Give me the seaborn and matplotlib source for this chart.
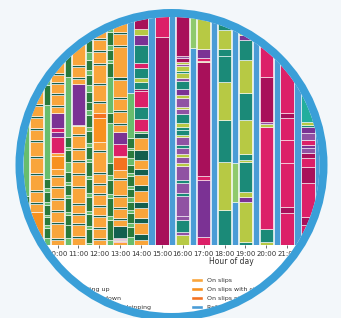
import matplotlib
matplotlib.use("Agg")
import matplotlib.pyplot as plt
from matplotlib.patches import Circle, Patch
import pandas as pd
import seaborn as sns

# activity colours
palette = {
    "LO": "#f9a53b", "OR": "#f7911f", "DO": "#f37221", "BL": "#4a9cd6",
    "DG": "#2a7a3b", "LG": "#68bd6d", "DT": "#135f4f", "TE": "#1b8a78",
    "PU": "#7b3294", "LP": "#9052a3", "MA": "#dc2068", "DM": "#a8105a",
    "YG": "#b7c944", "PG": "#8fca6c", "TQ": "#22ae9d",
}
left_codes = ["LG", "DT", "TE", "PU", "LP", "MA", "DM"]
left_labels = ["Building up", "Breaking down", "Superstructure stripping",
               "Fitting out", "Painting", "Testing", "Trials"]
right_codes = ["LO", "OR", "DO", "BL", "YG", "PG", "TQ"]
right_labels = ["On slips", "On slips with civil works", "On slips night shift", "Refit afloat",
                "Dry dock", "Wet dock", "Idle"]

# wide bars, one per hour: (activity, duration in 15 s slots), bottom to top
h08 = [("OR", 33), ("LO", 207)]
h09 = [("OR", 33), ("LO", 8), ("DT", 2), ("LO", 10), ("DT", 2), ("LO", 15), ("DT", 2), ("LO", 15), ("DT", 2),
       ("LO", 14), ("DT", 2), ("LO", 10), ("DT", 2), ("LO", 10), ("DT", 2), ("LO", 10), ("DT", 2), ("LO", 99)]
h10 = [("LO", 5), ("DT", 2), ("LO", 14), ("DT", 2), ("LO", 10), ("DT", 2), ("LO", 10), ("DT", 2), ("LO", 10),
       ("DT", 2), ("LO", 9), ("DT", 2), ("LO", 6), ("OR", 13), ("LO", 3), ("MA", 16), ("PU", 5), ("MA", 4),
       ("PU", 15), ("LO", 6), ("DT", 2), ("LO", 10), ("DT", 2), ("LO", 9), ("DT", 2), ("LO", 7), ("DT", 2),
       ("LO", 10), ("DT", 2), ("LO", 56)]
h11 = [("LO", 7), ("DT", 2), ("LO", 11), ("DT", 2), ("LO", 8), ("DT", 2), ("LO", 8), ("DT", 2), ("LO", 15),
       ("DT", 2), ("LO", 11), ("DT", 2), ("LO", 11), ("DT", 2), ("LO", 10), ("DT", 2), ("LO", 12), ("DT", 2),
       ("LO", 8), ("YG", 1), ("PU", 41), ("LO", 5), ("DT", 2), ("LO", 10), ("DT", 2), ("LO", 60)]
h12 = [("LO", 5), ("DT", 2), ("LO", 9), ("DT", 2), ("LO", 10), ("DT", 2), ("LO", 8), ("DT", 2), ("LO", 10),
       ("DT", 2), ("LO", 8), ("DT", 2), ("LO", 9), ("DT", 2), ("LO", 20), ("DT", 2), ("LO", 8), ("OR", 24),
       ("DO", 5), ("LO", 10), ("DT", 2), ("LO", 16), ("DT", 2), ("LO", 18), ("DT", 2), ("LO", 11), ("DT", 2),
       ("LO", 10), ("DT", 2), ("LO", 33)]
h13 = [("LO", 3), ("MA", 1), ("YG", 1), ("PU", 1), ("MA", 1), ("DT", 12), ("LO", 6), ("DT", 2), ("LO", 9),
       ("DT", 2), ("LO", 10), ("DT", 2), ("LO", 15), ("DT", 2), ("LO", 8), ("DO", 13), ("LO", 1), ("MA", 12),
       ("PU", 12), ("LO", 7), ("DT", 2), ("LO", 11), ("DT", 2), ("LO", 11), ("DT", 2), ("LO", 17), ("DT", 3),
       ("LO", 30), ("DT", 2), ("LO", 11), ("DT", 2), ("LO", 27)]
h14 = [("LO", 5), ("DT", 6), ("LO", 11), ("DT", 5), ("LO", 10), ("DT", 6), ("LO", 11), ("DT", 6), ("LO", 10),
       ("DT", 6), ("LO", 9), ("DT", 10), ("LO", 12), ("DT", 5), ("LG", 2), ("MA", 12), ("TE", 12), ("MA", 16),
       ("DM", 2), ("TE", 7), ("YG", 4), ("TE", 10), ("MA", 5), ("TE", 18), ("PU", 10), ("YG", 6), ("DM", 24)]
h15 = [("DM", 208), ("MA", 32)]
h16 = [("YG", 10), ("LP", 3), ("TE", 12), ("LP", 4), ("LP", 20), ("TE", 3), ("LP", 10), ("TE", 3), ("LP", 14),
       ("YG", 3), ("LP", 6), ("YG", 3), ("LP", 6), ("TE", 3), ("LP", 8), ("YG", 2), ("TE", 5), ("TE", 3),
       ("YG", 4), ("TE", 9), ("LP", 5), ("YG", 2), ("LP", 9), ("YG", 3), ("PU", 6), ("TE", 8), ("LP", 3),
       ("YG", 5), ("TE", 2), ("YG", 5), ("LP", 2), ("YG", 2), ("DM", 4), ("LP", 2), ("DM", 51)]
h17 = [("MA", 8), ("PU", 57), ("MA", 4), ("DM", 114), ("YG", 1), ("MA", 3), ("PU", 9), ("YG", 44)]
h18 = [("TE", 35), ("YG", 48), ("TE", 42), ("YG", 38), ("TE", 26), ("TE", 7), ("YG", 19), ("TE", 25)]
h19 = [("TE", 3), ("YG", 40), ("PU", 5), ("YG", 5), ("TE", 30), ("YG", 2), ("TE", 6), ("YG", 34), ("TE", 27),
       ("YG", 33), ("TE", 20), ("PU", 5), ("YG", 30)]
h20 = [("YG", 3), ("TE", 13), ("MA", 102), ("YG", 3), ("LP", 2), ("DM", 45), ("MA", 72)]
h21 = [("MA", 32), ("DM", 6), ("MA", 44), ("MA", 23), ("MA", 22), ("DM", 5), ("MA", 108)]
h22 = [("MA", 20), ("DM", 8), ("MA", 34), ("DM", 16), ("MA", 9), ("DM", 5), ("LP", 5), ("PU", 3), ("MA", 5),
       ("LP", 7), ("PU", 6), ("TE", 2), ("YG", 3), ("TQ", 117)]
h23 = [("TQ", 240)]

# narrow bars between the hours
g07 = [("LG", 240)]
g08 = [("LG", 7), ("DG", 12), ("LG", 3), ("DG", 12), ("LG", 3), ("DG", 12), ("LG", 191)]
g09 = [("LG", 7), ("DG", 10), ("LG", 3), ("DG", 8), ("LG", 2), ("DG", 10), ("LG", 3), ("DG", 10), ("LG", 4),
       ("DG", 9), ("LG", 74), ("DG", 20), ("LG", 80)]
g10 = [("LG", 7), ("DG", 13), ("DG", 10), ("LG", 3), ("DG", 14), ("LG", 3), ("DG", 10), ("LG", 3), ("DG", 10),
       ("LG", 10), ("DG", 12), ("LG", 3), ("DG", 10), ("LG", 60), ("DG", 22), ("LG", 50)]
g11 = [("LG", 2), ("DG", 14), ("LG", 3), ("DG", 12), ("LG", 3), ("DG", 14), ("LG", 4), ("DG", 14), ("LG", 3),
       ("DG", 14), ("LG", 3), ("DG", 12), ("LG", 4), ("DG", 12), ("LG", 4), ("DG", 12), ("LG", 5), ("DG", 8),
       ("DG", 10), ("LG", 7), ("DG", 10), ("LG", 5), ("DG", 10), ("LG", 8), ("DG", 12), ("LG", 4), ("DG", 31)]
g12 = [("LG", 5), ("DG", 20), ("LG", 4), ("DG", 18), ("LG", 4), ("DG", 14), ("LG", 5), ("DG", 12), ("LG", 40),
       ("DG", 10), ("LG", 36), ("DG", 14), ("LG", 3), ("DG", 10), ("LG", 5), ("DG", 13), ("LG", 27)]
g13 = [("LG", 8), ("DG", 10), ("LG", 4), ("DG", 10), ("LG", 3), ("DG", 8), ("LG", 5), ("DG", 8), ("LG", 3),
       ("DG", 10), ("LG", 3), ("DG", 8), ("LG", 7), ("DG", 8), ("LG", 2), ("DG", 10), ("LG", 45), ("BL", 88)]
g14 = [("BL", 240)]
g15 = [("BL", 240)]
g16 = [("BL", 197), ("PG", 43)]
g17 = [("BL", 240)]
g18 = [("BL", 43), ("PG", 39), ("BL", 158)]
g19 = [("BL", 240)]
g20 = [("BL", 240)]
g21 = [("BL", 240)]
g22 = [("BL", 240)]

hours = {8: h08, 9: h09, 10: h10, 11: h11, 12: h12, 13: h13, 14: h14, 15: h15,
         16: h16, 17: h17, 18: h18, 19: h19, 20: h20, 21: h21, 22: h22, 23: h23}
gaps = {7.5: g07, 8.5: g08, 9.5: g09, 10.5: g10, 11.5: g11, 12.5: g12, 13.5: g13, 14.5: g14,
        15.5: g15, 16.5: g16, 17.5: g17, 18.5: g18, 19.5: g19, 20.5: g20, 21.5: g21, 22.5: g22}

rows = []
for group, width in ((hours, 0.64), (gaps, 0.30)):
    for x, segs in group.items():
        bottom = 0
        for code, dur in segs:
            rows.append({"x": x, "width": width, "code": code, "dur": dur, "bottom": bottom})
            bottom += dur
df = pd.DataFrame(rows)

sns.set_theme(style="white")
plt.rcParams["font.family"] = ["DejaVu Sans"]

fig = plt.figure(figsize=(3.41, 3.18), dpi=100)
fig.patch.set_facecolor("white")
ax = fig.add_axes([0, 73 / 318, 1, 240 / 318])
ax.set_facecolor("none")

ax.bar(df["x"], df["dur"], bottom=df["bottom"], width=df["width"],
       color=df["code"].map(palette), edgecolor="white", linewidth=0.4)

ax.set_xticks(range(24))
ax.set_xticklabels([f"{h:02d}:00" for h in range(24)])
ax.set_xlim(7.245, 23.58)
ax.set_ylim(0, 240)
ax.set_yticks([])
ax.tick_params(axis="x", bottom=True, labelsize=5, length=2.5, width=0.5, pad=1.5,
               colors="#333333")
sns.despine(ax=ax, left=True, bottom=True)
ax.set_xlabel("Hour of day", fontsize=5.5, color="#333333")
ax.xaxis.set_label_coords(231.7 / 341, -0.05)

lh = [Patch(facecolor=palette[c]) for c in left_codes]
rh = [Patch(facecolor=palette[c]) for c in right_codes]
leg_kw = dict(loc="upper left", frameon=False, fontsize=4.5, handlelength=2.0, handleheight=0.7,
              labelspacing=0.6, borderpad=0, borderaxespad=0, handletextpad=0.6, labelcolor="#333333")
fig.legend(lh, left_labels, bbox_to_anchor=(58 / 341, 1 - 286.5 / 318), **leg_kw)
fig.legend(rh, right_labels, bbox_to_anchor=(191 / 341, 1 - 277.5 / 318), **leg_kw)

# round crop: background outside the circle, then the blue ring
centre = (171.5 / 100, (318 - 165) / 100)
fig.add_artist(Circle(centre, radius=2.98, fill=False, edgecolor="#f3f7fa", linewidth=216,
                      transform=fig.dpi_scale_trans, zorder=20))
fig.add_artist(Circle(centre, radius=1.52, fill=False, edgecolor="#3a9fd8", linewidth=5.76,
                      transform=fig.dpi_scale_trans, zorder=21))

fig.savefig("out.png", dpi=100)
